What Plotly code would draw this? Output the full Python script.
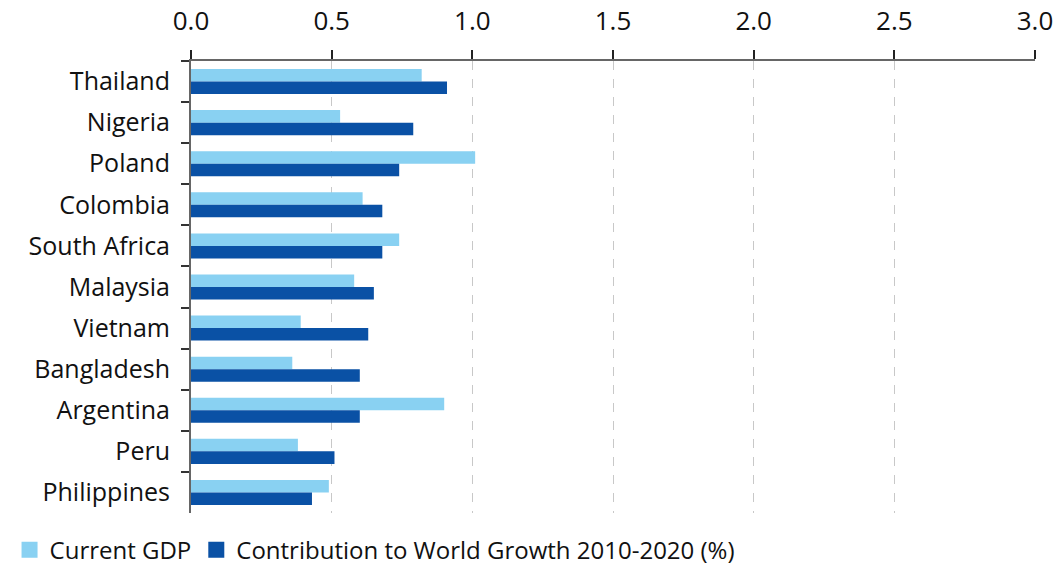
import plotly.graph_objects as go

countries = ["Thailand", "Nigeria", "Poland", "Colombia", "South Africa", "Malaysia",
             "Vietnam", "Bangladesh", "Argentina", "Peru", "Philippines"]
current_gdp = [0.82, 0.53, 1.01, 0.61, 0.74, 0.58, 0.39, 0.36, 0.90, 0.38, 0.49]
contribution = [0.91, 0.79, 0.74, 0.68, 0.68, 0.65, 0.63, 0.60, 0.60, 0.51, 0.43]
x_ticks = [0.0, 0.5, 1.0, 1.5, 2.0, 2.5, 3.0]
series_names = ["Current GDP", "Contribution to World Growth 2010-2020 (%)"]

FONT = "Open Sans"
LIGHT = "#89D1F2"
DARK = "#0A51A5"

fig = go.Figure()
for name, vals, col in zip(series_names, [current_gdp, contribution], [LIGHT, DARK]):
    fig.add_trace(go.Bar(y=countries, x=vals, orientation="h", name=name,
                         marker=dict(color=col, line=dict(width=0)),
                         showlegend=False))
# legend swatches as square markers
for name, col in zip(series_names, [LIGHT, DARK]):
    fig.add_trace(go.Scatter(x=[None], y=[None], mode="markers", name=name,
                             marker=dict(symbol="square", size=16, color=col)))

fig.update_layout(
    width=1061, height=566,
    margin=dict(l=191, r=26, t=61, b=53, autoexpand=False),
    barmode="group", bargap=0.39, bargroupgap=0,
    plot_bgcolor="white", paper_bgcolor="white",
    font=dict(family=FONT, size=25, color="#111111"),
    legend=dict(orientation="h", x=-0.215, xanchor="left", y=-0.082, yanchor="middle",
                font=dict(size=24), itemwidth=30, traceorder="normal",
                tracegroupgap=0),
    showlegend=True,
)
fig.update_xaxes(
    side="top", range=[0, 3.0], tickvals=x_ticks,
    ticktext=[f"{v:.1f}" for v in x_ticks], tickfont=dict(size=26),
    showgrid=True, gridcolor="#C8C8C8", griddash="dash", gridwidth=1,
    showline=True, linecolor="#666666", linewidth=2,
    ticks="outside", ticklen=9, tickcolor="#222222", tickwidth=1.5,
    zeroline=False, ticklabelstandoff=10,
)
fig.update_yaxes(
    autorange="reversed", showgrid=False,
    showline=True, linecolor="#666666", linewidth=2,
    ticks="outside", ticklen=8, tickcolor="#333333", tickwidth=1.5,
    tickson="boundaries", ticklabelstandoff=14,
)

fig.write_html("out.html")
